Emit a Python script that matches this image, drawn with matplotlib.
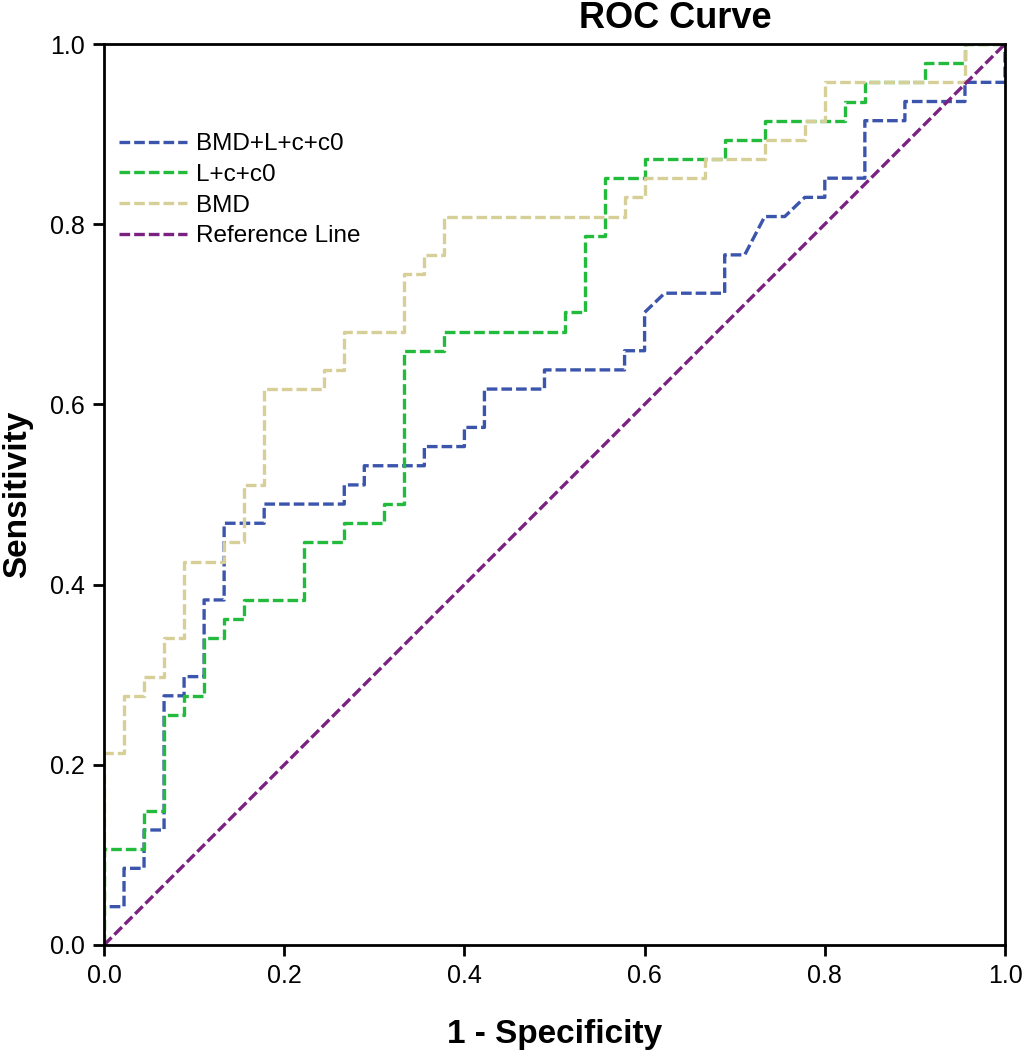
import numpy as np
import matplotlib
matplotlib.use("Agg")
import matplotlib.pyplot as plt

# counts of negatives (45) and positives (47) along each ROC curve
n_neg = 45
n_pos = 47

labels = ["BMD+L+c+c0", "L+c+c0", "BMD", "Reference Line"]
colors = ["#3b55ad", "#22bb3c", "#d6cf98", "#7a2181"]

# (false positives, true positives) vertices
bmd_all_fp = [0, 0, 1, 1, 2, 2, 3, 3, 4, 4, 5, 5, 6, 6, 8, 8, 12, 12, 13, 13, 16, 16, 18, 18,
              19, 19, 22, 22, 26, 26, 27, 27, 28, 31, 31, 32, 33, 34, 35, 36, 36, 38, 38,
              40, 40, 43, 43, 45, 45]
bmd_all_tp = [0, 2, 2, 4, 4, 6, 6, 13, 13, 14, 14, 18, 18, 22, 22, 23, 23, 24, 24, 25, 25, 26, 26, 27,
              27, 29, 29, 30, 30, 31, 31, 33, 34, 34, 36, 36, 38, 38, 39, 39, 40, 40, 43,
              43, 44, 44, 45, 45, 47]

lcc_fp = [0, 0, 2, 2, 3, 3, 4, 4, 5, 5, 6, 6, 7, 7, 10, 10, 12, 12, 14, 14, 15, 15, 17, 17,
          23, 23, 24, 24, 25, 25, 27, 27, 31, 31, 33, 33, 37, 37, 38, 38, 41, 41, 43, 43, 45]
lcc_tp = [0, 5, 5, 7, 7, 12, 12, 13, 13, 16, 16, 17, 17, 18, 18, 21, 21, 22, 22, 23, 23, 31, 31, 32,
          32, 33, 33, 37, 37, 40, 40, 41, 41, 42, 42, 43, 43, 44, 44, 45, 45, 46, 46, 47, 47]

bmd_fp = [0, 0, 1, 1, 2, 2, 3, 3, 4, 4, 6, 6, 7, 7, 8, 8, 11, 11, 12, 12, 15, 15, 16, 16,
          17, 17, 26, 26, 27, 27, 30, 30, 33, 33, 35, 35, 36, 36, 43, 43, 45]
bmd_tp = [0, 10, 10, 13, 13, 14, 14, 16, 16, 20, 20, 21, 21, 24, 24, 29, 29, 30, 30, 32, 32, 35, 35, 36,
          36, 38, 38, 39, 39, 40, 40, 41, 41, 42, 42, 43, 43, 45, 45, 47, 47]

curves = [(bmd_all_fp, bmd_all_tp), (lcc_fp, lcc_tp), (bmd_fp, bmd_tp)]

plt.rcParams['font.family'] = ['Liberation Sans', 'DejaVu Sans']

fig = plt.figure(figsize=(10.22, 10.5), dpi=100)
ax = fig.add_axes([104/1022, 1-945/1050, 901/1022, 901/1050])

dash = (3.2, 1.2)
for (fp, tp), lab, col in zip(curves, labels[:3], colors[:3]):
    x = np.array(fp) / n_neg
    y = np.array(tp) / n_pos
    ax.plot(x, y, color=col, lw=2.4, dashes=dash, label=lab)
ax.plot([0, 1], [0, 1], color=colors[3], lw=2.4, dashes=dash, label=labels[3])

ax.set_xlim(0, 1)
ax.set_ylim(0, 1)
ax.set_xticks(np.arange(0, 1.01, 0.2))
ax.set_yticks(np.arange(0, 1.01, 0.2))
ax.set_xticklabels(["%.1f" % v for v in np.arange(0, 1.01, 0.2)])
ax.set_yticklabels(["%.1f" % v for v in np.arange(0, 1.01, 0.2)])
ax.tick_params(direction='out', length=8, width=2, labelsize=18, pad=6)
for s in ax.spines.values():
    s.set_linewidth(2)

ax.set_xlabel("1 - Specificity", fontsize=24, fontweight='bold', labelpad=22)
ax.set_ylabel("Sensitivity", fontsize=24, fontweight='bold', labelpad=12)
fig.text(675/1022, 1-18/1050, "ROC Curve", fontsize=26, fontweight='bold', ha='center', va='center')

leg = ax.legend(loc='upper left', bbox_to_anchor=(-0.008, 0.925), frameon=False,
                handlelength=2.8, handletextpad=0.4, labelspacing=0.35,
                prop={'size': 17.5})

fig.savefig("out.png", dpi=100)
